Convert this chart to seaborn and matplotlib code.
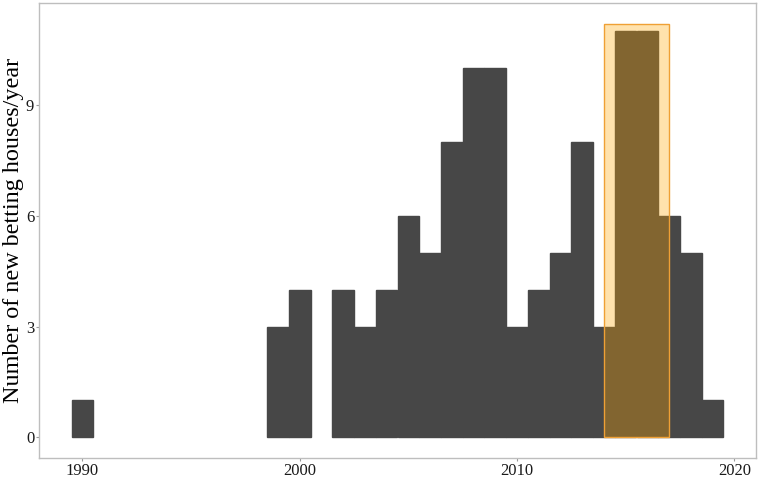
import numpy as np
import pandas as pd
import matplotlib
matplotlib.use("Agg")
import matplotlib.pyplot as plt
import seaborn as sns
from matplotlib.patches import Rectangle

years = [1990, 1999, 2000, 2002, 2003, 2004, 2005, 2006, 2007, 2008, 2009,
         2010, 2011, 2012, 2013, 2014, 2015, 2016, 2017, 2018, 2019]
counts = [1, 3, 4, 4, 3, 4, 6, 5, 8, 10, 10,
          3, 4, 5, 8, 3, 11, 11, 6, 5, 1]
highlight_start = 2014
highlight_end = 2017
highlight_top = 11.2
x_ticks = [1990, 2000, 2010, 2020]
y_ticks = [0, 3, 6, 9]

data = pd.DataFrame({'year': years, 'count': counts})

sns.set_style('white')
plt.rcParams['font.family'] = ['Liberation Serif', 'DejaVu Serif']

fig = plt.figure(figsize=(7.61, 4.79), dpi=100)
ax = fig.add_axes([39 / 761, 21 / 479, 717 / 761, 455 / 479])

sns.histplot(data=data, x='year', weights='count', discrete=True,
             color='#474747', alpha=1, linewidth=1, edgecolor='#474747', ax=ax)
# drop the empty years so no flat edge line shows at zero
for p in list(ax.patches):
    if p.get_height() == 0:
        p.remove()

ax.add_patch(Rectangle((highlight_start, 0), highlight_end - highlight_start, highlight_top,
                       facecolor='#FFA500', alpha=0.32, edgecolor='none', zorder=3))
ax.add_patch(Rectangle((highlight_start, 0), highlight_end - highlight_start, highlight_top,
                       facecolor='none', edgecolor='#EFA035', linewidth=1, zorder=4))

ax.set_xlim(1988, 2021)
ax.set_ylim(-0.56, 11.76)
ax.set_xticks(x_ticks)
ax.set_yticks(y_ticks)
ax.set_xlabel('')
ax.set_ylabel('Number of new betting houses/year', fontsize=17.4, color='black')
ax.yaxis.set_label_coords(-0.021, 0.5)
ax.tick_params(axis='both', labelsize=12, colors='#1a1a1a', length=2.5, width=0.8,
               color='#999999', direction='out', bottom=True, left=True, pad=1)
for s in ax.spines.values():
    s.set_color('#BEBEBE')
    s.set_linewidth(1)
ax.grid(False)

fig.savefig('out.png', dpi=100)
